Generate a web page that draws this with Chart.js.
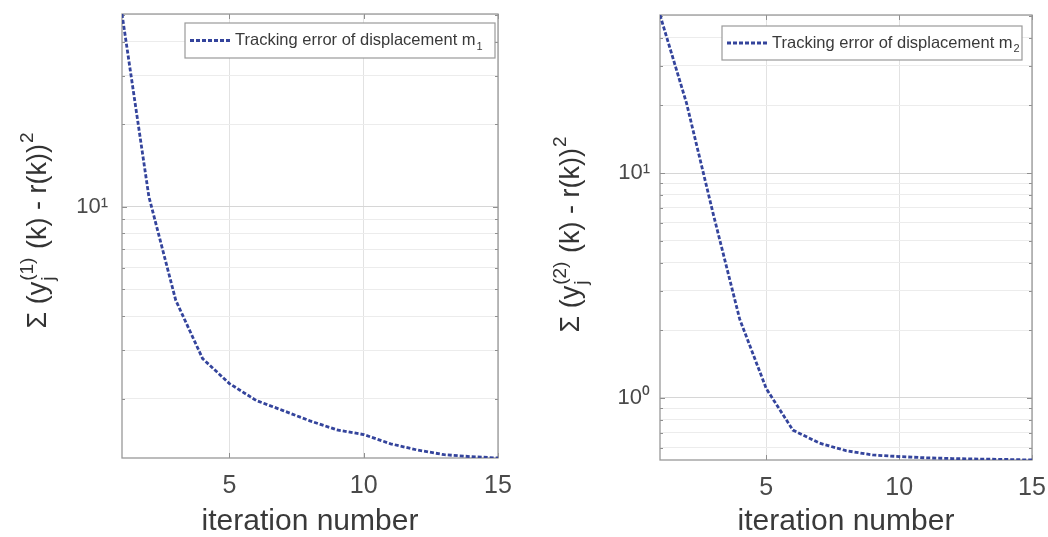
<!DOCTYPE html>
<html><head><meta charset="utf-8">
<script src="https://cdn.jsdelivr.net/npm/chart.js@4.4.1/dist/chart.umd.min.js"></script>
<style>
html,body{margin:0;padding:0;background:#fff;width:1048px;height:537px;overflow:hidden}
#c1{position:absolute;left:0;top:0}
#c2{position:absolute;left:530px;top:0}
</style></head><body>
<canvas id="c1" width="530" height="537"></canvas>
<canvas id="c2" width="518" height="537"></canvas>
<script>
// ---- data ----
const iterations = [1,2,3,4,5,6,7,8,9,10,11,12,13,14,15];
const errorM1 = [50.4, 10.9, 4.57, 2.80, 2.27, 1.97, 1.81, 1.66, 1.54, 1.48, 1.37, 1.30, 1.25, 1.23, 1.216];
const errorM2 = [50.4, 20.4, 6.6, 2.24, 1.1, 0.72, 0.63, 0.583, 0.558, 0.549, 0.542, 0.538, 0.535, 0.533, 0.53];
const xTickValues = [5, 10, 15];
const seriesLabels = ['Tracking error of displacement m', 'Tracking error of displacement m'];
const seriesSubscripts = ['1', '2'];
const yTitleSuperscripts = ['(1)', '(2)'];
const xTitle = 'iteration number';
const supDigits = {'0':'\u2070','1':'\u00B9','2':'\u00B2','3':'\u00B3','-':'\u207B'};

const FAM = '"Liberation Sans", Arial, sans-serif';
const isPow10 = v => Math.abs(Math.log10(v) - Math.round(Math.log10(v))) < 1e-9;

const framePlugin = {
  id: 'frame',
  beforeDatasetsDraw(chart) {
    const {ctx, chartArea: a, scales} = chart;
    ctx.save();
    ctx.strokeStyle = '#8f8f8f';
    ctx.lineWidth = 1;
    ctx.beginPath();
    scales.x.ticks.forEach(t => {
      const px = Math.round(scales.x.getPixelForValue(t.value)) + 0.5;
      ctx.moveTo(px, a.bottom); ctx.lineTo(px, a.bottom - 5);
      ctx.moveTo(px, a.top); ctx.lineTo(px, a.top + 5);
    });
    scales.y.ticks.forEach(t => {
      const py = Math.round(scales.y.getPixelForValue(t.value)) + 0.5;
      const len = isPow10(t.value) ? 5 : 3;
      ctx.moveTo(a.left, py); ctx.lineTo(a.left + len, py);
      ctx.moveTo(a.right, py); ctx.lineTo(a.right - len, py);
    });
    ctx.stroke();
    ctx.strokeStyle = '#999999';
    ctx.lineWidth = 1.3;
    ctx.strokeRect(a.left, a.top, a.right - a.left, a.bottom - a.top);
    ctx.restore();
  }
};

const legendPlugin = {
  id: 'boxLegend',
  afterDatasetsDraw(chart, args, opts) {
    const {ctx, chartArea: a} = chart;
    const ds = chart.data.datasets[0];
    const bx = a.right - opts.rightGap - opts.width, by = a.top + opts.topGap;
    ctx.save();
    ctx.fillStyle = '#fff';
    ctx.fillRect(bx, by, opts.width, opts.height);
    ctx.strokeStyle = '#9a9a9a';
    ctx.lineWidth = 1.2;
    ctx.strokeRect(bx, by, opts.width, opts.height);
    const cy = by + opts.height / 2;
    ctx.strokeStyle = ds.borderColor;
    ctx.lineWidth = ds.borderWidth;
    ctx.setLineDash(ds.borderDash);
    ctx.beginPath();
    ctx.moveTo(bx + 5, cy); ctx.lineTo(bx + 47, cy);
    ctx.stroke();
    ctx.setLineDash([]);
    ctx.fillStyle = '#3a3a3a';
    ctx.textBaseline = 'middle';
    ctx.font = '16.5px ' + FAM;
    ctx.fillText(ds.label, bx + 50, cy);
    const w = ctx.measureText(ds.label).width;
    ctx.font = '11px ' + FAM;
    ctx.fillText(opts.sub, bx + 51 + w, cy + 6);
    ctx.restore();
  }
};

const yTitlePlugin = {
  id: 'yTitle',
  afterDraw(chart, args, opts) {
    const ctx = chart.ctx;
    const fs = 27, ss = 19;
    const main = fs + 'px ' + FAM, small = ss + 'px ' + FAM;
    ctx.save();
    ctx.font = main;
    const w1 = ctx.measureText('\u03A3 (y').width;
    const w3 = ctx.measureText(' (k) - r(k))').width;
    ctx.font = small;
    const wj = ctx.measureText('j').width;
    const wsup = ctx.measureText(opts.sup).width;
    const w2 = Math.max(wj, wsup) + 2;
    const w4 = ctx.measureText('2').width;
    const total = w1 + w2 + w3 + w4;
    ctx.translate(opts.x, opts.cy);
    ctx.rotate(-Math.PI / 2);
    ctx.fillStyle = '#333';
    ctx.textBaseline = 'alphabetic';
    let x = -total / 2;
    ctx.font = main; ctx.fillText('\u03A3 (y', x, 0); x += w1;
    ctx.font = small;
    ctx.fillText('j', x + 1, 0.3 * fs);
    ctx.fillText(opts.sup, x + 1, -0.5 * fs);
    x += w2;
    ctx.font = main; ctx.fillText(' (k) - r(k))', x, 0); x += w3;
    ctx.font = small; ctx.fillText('2', x + 1, -0.5 * fs);
    ctx.restore();
  }
};

function makeChart(id, values, idx, L) {
  const yMin = Math.min(...values), yMax = Math.max(...values);
  return new Chart(document.getElementById(id), {
    type: 'line',
    data: {
      datasets: [{
        label: seriesLabels[idx],
        data: iterations.map((x, i) => ({x: x, y: values[i]})),
        borderColor: '#34449c',
        borderWidth: 2.8,
        borderDash: [4, 2],
        pointRadius: 0,
        fill: false,
        tension: 0
      }]
    },
    options: {
      responsive: false,
      animation: false,
      devicePixelRatio: 1,
      layout: {padding: {left: 0, top: L.top, right: L.right, bottom: 0}},
      plugins: {
        legend: {display: false},
        tooltip: {enabled: false},
        boxLegend: L.legend,
        yTitle: {sup: yTitleSuperscripts[idx], x: L.titleX, cy: L.titleY}
      },
      scales: {
        x: {
          type: 'linear', min: 1, max: 15,
          afterBuildTicks: s => { s.ticks = xTickValues.map(v => ({value: v})); },
          afterFit: s => { s.height = L.xh; s.paddingLeft = 0; s.paddingRight = 0; },
          grid: {color: '#e2e2e2', drawTicks: false, lineWidth: 1},
          border: {display: false},
          ticks: {font: {family: FAM, size: 25}, color: '#4a4a4a', padding: 13, maxRotation: 0, autoSkip: false},
          title: {display: true, text: xTitle, font: {family: FAM, size: 30, lineHeight: 1}, color: '#3a3a3a', padding: 0}
        },
        y: {
          type: 'logarithmic', min: yMin, max: yMax,
          afterBuildTicks: s => {
            const t = [];
            for (let d = Math.floor(Math.log10(yMin)); d <= Math.ceil(Math.log10(yMax)); d++) {
              for (let m = 1; m <= 9; m++) {
                const v = m * Math.pow(10, d);
                if (v >= yMin && v <= yMax) t.push({value: v});
              }
            }
            s.ticks = t;
          },
          afterFit: s => { s.width = L.yw; s.paddingTop = 0; s.paddingBottom = 0; },
          grid: {color: c => (c.tick && isPow10(c.tick.value)) ? '#d6d6d6' : '#ececec', drawTicks: false, lineWidth: 1},
          border: {display: false},
          ticks: {
            autoSkip: false, font: {family: FAM, size: 22}, color: '#4a4a4a', padding: L.ytPad,
            callback: v => isPow10(v) ? '10' + String(Math.round(Math.log10(v))).split('').map(ch => supDigits[ch]).join('') : ''
          }
        }
      }
    },
    plugins: [framePlugin, legendPlugin, yTitlePlugin]
  });
}

makeChart('c1', errorM1, 0, {
  top: 14, right: 32, xh: 79, yw: 122, ytPad: 14, titleX: 46, titleY: 231,
  legend: {width: 310, height: 35, rightGap: 3, topGap: 9, sub: seriesSubscripts[0]}
});
makeChart('c2', errorM2, 1, {
  top: 15, right: 16, xh: 77, yw: 130, ytPad: 10, titleX: 49, titleY: 235,
  legend: {width: 300, height: 34, rightGap: 10, topGap: 11, sub: seriesSubscripts[1]}
});
</script>
</body></html>
